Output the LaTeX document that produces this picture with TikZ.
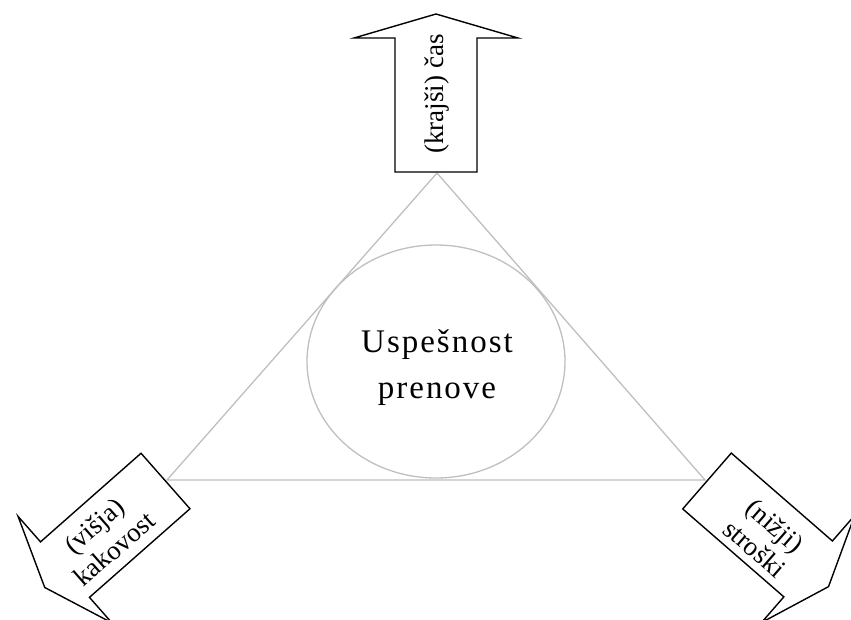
\documentclass[tikz,border=0pt]{standalone}
\usepackage{fontspec}
\setmainfont{Liberation Serif}
\begin{document}
\begin{tikzpicture}[x=1pt,y=-1pt,
  tri/.style={draw=black!25, line width=1.3pt},
  barrow/.style={draw=black, line width=1.4pt, fill=white, line join=miter},
  lbl/.style={font=\fontsize{27}{31}\selectfont, align=center, inner sep=0pt},
  midlbl/.style={font=\fontsize{33}{46}\selectfont\addfontfeature{LetterSpace=6}, align=center, inner sep=0pt}]
\useasboundingbox (0,0) rectangle (851,619);
\clip (0,0) rectangle (851,619);
\coordinate (T) at (437,173);
\coordinate (L) at (167,480);
\coordinate (R) at (705,480);
\draw[tri] (T) -- (L) -- (R) -- cycle;
\draw[tri] (436,361.5) ellipse [x radius=129pt, y radius=116.5pt];
% top arrow
\begin{scope}[shift={(436,172)}, y=1pt]
  \draw[barrow] (-41,0) -- (-41,134) -- (-82,134) -- (0,158) -- (82,134) -- (41,134) -- (41,0) -- cycle;
\end{scope}
% bottom-left arrow
\begin{scope}[shift={(165.5,481)}, rotate=131.4, y=1pt]
  \draw[barrow] (-37,0) -- (-37,134) -- (-71,134) -- (0,161) -- (71,134) -- (37,134) -- (37,0) -- cycle;
\end{scope}
% bottom-right arrow
\begin{scope}[shift={(707,481)}, rotate=-131, y=1pt]
  \draw[barrow] (-37,0) -- (-37,134) -- (-71,134) -- (0,161) -- (71,134) -- (37,134) -- (37,0) -- cycle;
\end{scope}
\node[lbl, rotate=90] (tcas) at (437,94) {(krajši) čas};
\node[lbl, rotate=41.4] (tkak) at (104,537) {(višja)\\kakovost};
\node[lbl, rotate=-41] (tstr) at (765,537) {(nižji)\\stroški};
\node[midlbl] (mid) at (437,368) {Uspešnost\\prenove};
\end{tikzpicture}
\end{document}
